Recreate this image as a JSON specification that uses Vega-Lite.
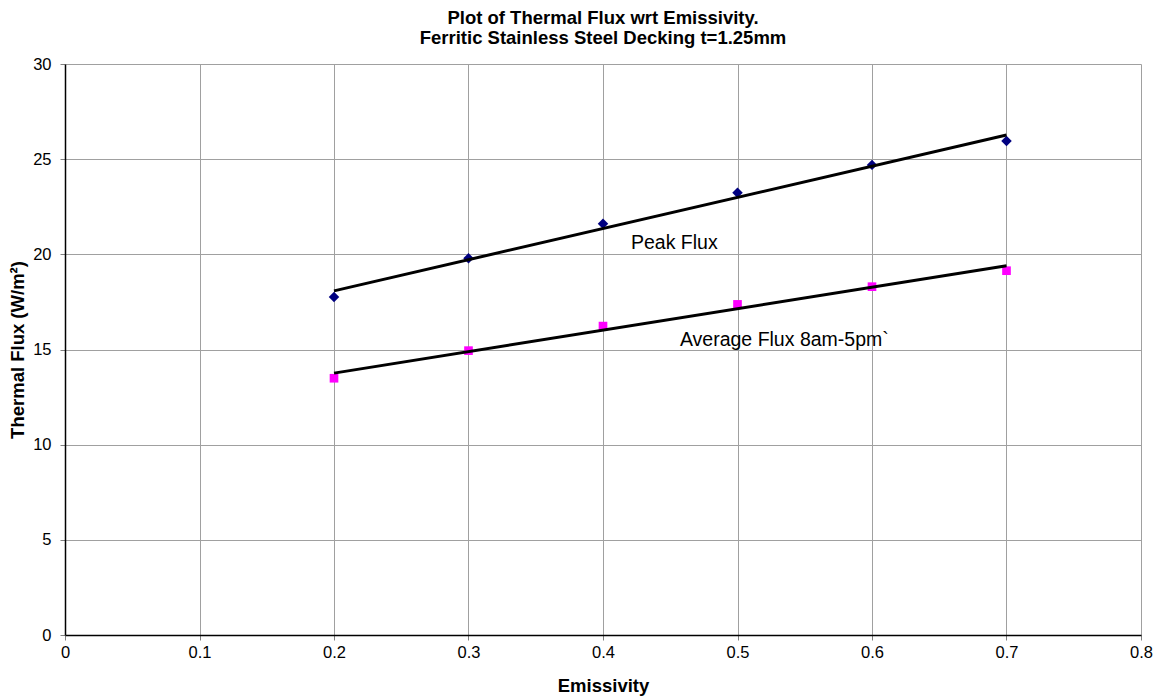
{
  "$schema": "https://vega.github.io/schema/vega-lite/v6.json",
  "autosize": {"type": "none"},
  "width": 1076,
  "height": 571,
  "padding": {"left": 65, "top": 64, "right": 20, "bottom": 65},
  "background": "white",
  "config": {
    "font": "Liberation Sans",
    "view": {"stroke": null},
    "axis": {"labelFont": "Liberation Sans", "titleFont": "Liberation Sans"}
  },
  "title": {
    "text": ["Plot of Thermal Flux wrt Emissivity.", "Ferritic Stainless Steel Decking t=1.25mm"],
    "font": "Liberation Sans",
    "fontSize": 18.5,
    "fontWeight": "bold",
    "lineHeight": 20,
    "color": "#000000",
    "anchor": "middle",
    "offset": 9
  },
  "datasets": {
    "points": [
      {"e": 0.2, "flux": 17.76, "series": "Peak Flux"},
      {"e": 0.3, "flux": 19.79, "series": "Peak Flux"},
      {"e": 0.4, "flux": 21.61, "series": "Peak Flux"},
      {"e": 0.5, "flux": 23.24, "series": "Peak Flux"},
      {"e": 0.6, "flux": 24.70, "series": "Peak Flux"},
      {"e": 0.7, "flux": 25.95, "series": "Peak Flux"},
      {"e": 0.2, "flux": 13.49, "series": "Average Flux"},
      {"e": 0.3, "flux": 14.94, "series": "Average Flux"},
      {"e": 0.4, "flux": 16.23, "series": "Average Flux"},
      {"e": 0.5, "flux": 17.37, "series": "Average Flux"},
      {"e": 0.6, "flux": 18.30, "series": "Average Flux"},
      {"e": 0.7, "flux": 19.14, "series": "Average Flux"}
    ],
    "labels": [
      {"e": 0.4208, "flux": 20.28, "label": "Peak Flux"},
      {"e": 0.4572, "flux": 15.2, "label": "Average Flux 8am-5pm`"}
    ]
  },
  "layer": [
    {
      "data": {"name": "points"},
      "mark": {"type": "point", "filled": true, "opacity": 1},
      "encoding": {
        "x": {
          "field": "e", "type": "quantitative",
          "scale": {"domain": [0, 0.8], "nice": false, "zero": true},
          "axis": {
            "title": "Emissivity",
            "values": [0, 0.1, 0.2, 0.3, 0.4, 0.5, 0.6, 0.7, 0.8],
            "format": ".1~f",
            "labelFontSize": 16.5,
            "labelColor": "#000000",
            "labelFlush": false,
            "labelPadding": 4,
            "tickSize": 5,
            "tickColor": "#808080",
            "domainColor": "#000000",
            "domainWidth": 1.5,
            "grid": true,
            "gridColor": "#a0a0a0",
            "gridWidth": 1,
            "titleFontSize": 18.5,
            "titleFontWeight": "bold",
            "titleColor": "#000000",
            "titlePadding": 16
          }
        },
        "y": {
          "field": "flux", "type": "quantitative",
          "scale": {"domain": [0, 30], "nice": false},
          "axis": {
            "title": "Thermal Flux (W/m²)",
            "values": [0, 5, 10, 15, 20, 25, 30],
            "labelFontSize": 16.5,
            "labelColor": "#000000",
            "labelFlush": false,
            "labelPadding": 9,
            "tickSize": 5,
            "tickColor": "#808080",
            "domainColor": "#000000",
            "domainWidth": 1.5,
            "grid": true,
            "gridColor": "#a0a0a0",
            "gridWidth": 1,
            "titleFontSize": 18.5,
            "titleFontWeight": "bold",
            "titleColor": "#000000",
            "titlePadding": 5
          }
        },
        "shape": {
          "field": "series", "type": "nominal",
          "scale": {"domain": ["Peak Flux", "Average Flux"], "range": ["diamond", "square"]},
          "legend": null
        },
        "color": {
          "field": "series", "type": "nominal",
          "scale": {"domain": ["Peak Flux", "Average Flux"], "range": ["#000080", "#ff00ff"]},
          "legend": null
        },
        "size": {
          "field": "series", "type": "nominal",
          "scale": {"domain": ["Peak Flux", "Average Flux"], "range": [110, 75]},
          "legend": null
        }
      }
    },
    {
      "data": {"name": "points"},
      "transform": [
        {"regression": "flux", "on": "e", "groupby": ["series"], "extent": [0.2, 0.7]}
      ],
      "mark": {"type": "line", "color": "#000000", "strokeWidth": 3},
      "encoding": {
        "x": {"field": "e", "type": "quantitative"},
        "y": {"field": "flux", "type": "quantitative"},
        "detail": {"field": "series", "type": "nominal"}
      }
    },
    {
      "data": {"name": "labels"},
      "mark": {"type": "text", "align": "left", "baseline": "alphabetic", "fontSize": 19.5, "font": "Liberation Sans", "color": "#000000"},
      "encoding": {
        "x": {"field": "e", "type": "quantitative"},
        "y": {"field": "flux", "type": "quantitative"},
        "text": {"field": "label"}
      }
    }
  ]
}
